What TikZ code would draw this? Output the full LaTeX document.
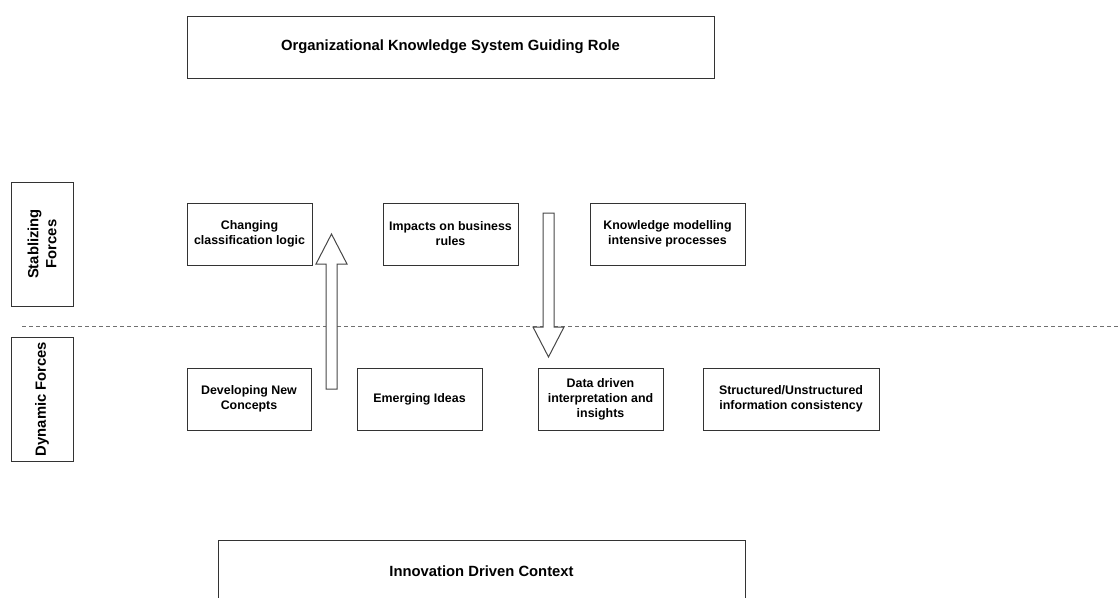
\documentclass[tikz,border=0pt]{standalone}
\usepackage{fontspec}
\setmainfont{Liberation Sans}
\usetikzlibrary{calc}
\definecolor{edge}{HTML}{333333}
\definecolor{dashgray}{HTML}{707070}
\begin{document}
\begin{tikzpicture}[x=1pt,y=-1pt,
  box/.style={draw=edge, line width=1pt, fill=white, inner sep=0pt, align=center,
    font=\fontsize{12.4}{15}\selectfont\bfseries},
  headbox/.style={box, font=\fontsize{14.8}{18}\selectfont\bfseries},
  sidebox/.style={draw=edge, line width=1pt, fill=white, inner sep=0pt,
    minimum width=62, minimum height=124},
  sidetext/.style={rotate=90, align=center, inner sep=0pt,
    font=\fontsize{14.8}{18}\selectfont\bfseries},
  blockarrow/.style={draw=edge!90, line width=1pt, fill=white, line join=miter},
  divider/.style={draw=dashgray, line width=0.9pt, dash pattern=on 4pt off 3pt}]

\useasboundingbox (0,0) rectangle (1118,597);

% top and bottom context boxes
\node[headbox, minimum width=527, minimum height=62] (guide) at (450.5,47)
  {Organizational Knowledge System Guiding Role};
\node[headbox, minimum width=527, minimum height=62] (innov) at (481.5,571)
  {Innovation Driven Context};

% side labels
\node[sidebox] (stabbox) at (42,244) {};
\node[sidetext] (stab) at (stabbox.center) {Stablizing\\Forces};
\node[sidebox] (dynbox) at (42,399) {};
\node[sidetext] (dyn) at (dynbox.center) {Dynamic Forces};

% divider between stabilizing and dynamic forces
\coordinate (divL) at (22,326);
\coordinate (divR) at (1118,326);
\draw[divider] (divL) -- (divR);

% stabilizing forces
\node[box, minimum width=125, minimum height=62] (chg) at (249.5,234)
  {Changing\\classification logic};
\node[box, minimum width=135, minimum height=62] (imp) at (450.5,234)
  {Impacts on business\\rules};
\node[box, minimum width=155, minimum height=62] (kmod) at (667.5,234)
  {Knowledge modelling\\intensive processes};

% dynamic forces
\node[box, minimum width=124, minimum height=62] (dev) at (249,399)
  {Developing New\\Concepts};
\node[box, minimum width=125, minimum height=62] (emg) at (419.5,399)
  {Emerging Ideas};
\node[box, minimum width=125, minimum height=62] (data) at (600.5,399)
  {Data driven\\interpretation and\\insights};
\node[box, minimum width=176, minimum height=62] (struct) at (791,399)
  {Structured/Unstructured\\information consistency};

% block arrows: upward (dynamic -> stabilizing) and downward
\coordinate (upTail) at (331.5,389);
\coordinate (upTip) at (331.5,234);
\draw[blockarrow] ($(upTail)+(-5.5,0)$) -- ($(upTip)+(-5.5,30)$) -- ($(upTip)+(-15.5,30)$)
  -- (upTip) -- ($(upTip)+(15.5,30)$) -- ($(upTip)+(5.5,30)$) -- ($(upTail)+(5.5,0)$) -- cycle;

\coordinate (dnTail) at (548.5,213);
\coordinate (dnTip) at (548.5,357);
\draw[blockarrow] ($(dnTail)+(-5.5,0)$) -- ($(dnTip)+(-5.5,-30)$) -- ($(dnTip)+(-15.5,-30)$)
  -- (dnTip) -- ($(dnTip)+(15.5,-30)$) -- ($(dnTip)+(5.5,-30)$) -- ($(dnTail)+(5.5,0)$) -- cycle;

\end{tikzpicture}
\end{document}
